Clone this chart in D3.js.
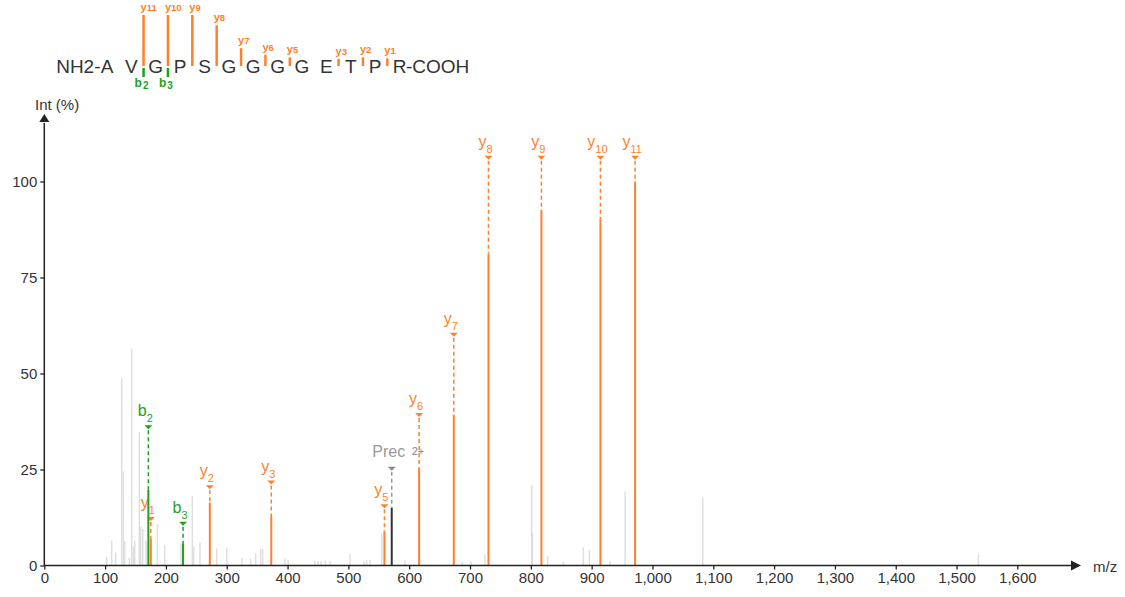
<!DOCTYPE html>
<html><head><meta charset="utf-8">
<script src="https://cdn.jsdelivr.net/npm/d3@7"></script>
<style>
body{margin:0;background:#fff;}
svg{display:block;font-family:"Liberation Sans",Arial,sans-serif;}
</style>
</head><body>
<svg id="chart" width="1125" height="597"></svg>
<script>
// ---------------- data ----------------
const residues = ["A","V","G","P","S","G","G","G","G","E","T","P","R"];

const yIonNumbers    = [1, 2, 3, 5, 6, 7, 8, 9, 10, 11];
const yIonMz         = [175.12, 272.17, 373.22, 559.28, 616.30, 673.32, 730.35, 817.38, 914.43, 971.45];
const yIonIntensity  = [6.9, 16.4, 12.9, 8.9, 25.5, 39.2, 80.9, 92.6, 90.2, 100];
const yIonLabelLevel = [12.1, 20.4, 21.6, 15.4, 39.2, 60.1, 106.2, 106.2, 106.2, 106.2];
const yIonSeqMark    = [0.15, 0.17, 0.14, 0.17, 0.22, 0.35, 0.80, 1.0, 1.0, 1.0];

const bIonNumbers    = [2, 3];
const bIonMz         = [171.11, 228.13];
const bIonIntensity  = [19.7, 5.8];
const bIonLabelLevel = [36.0, 10.9];

const precursorMz = [571.28];
const precursorIntensity = [15.1];
const precursorLabelLevel = [25.2];
const precursorCharge = ["2+"];

const otherMz = [102.6,110.8,117.4,127.3,130.0,132.2,139.8,143.7,146.4,148.7,156.3,158.5,161.8,167.3,
  186.0,198.0,224.8,243.4,245.7,256.0,283.5,300.0,325.0,339.4,347.6,355.8,359.0,395.8,401.0,
  445,450,455,462,470,502.7,525.7,530,535.7,554.8,593,687.4,701.7,724.7,801.5,802.5,827.8,
  853.5,886.4,896.3,930.3,955.0,1082.7,1536];
const otherIntensity = [2.3,6.5,3.4,48.8,24.5,6.3,2.0,56.4,5.0,6.5,34.7,10.2,9.5,6.5,
  10.8,5.4,5.7,18.1,5.0,6.0,4.4,4.7,2.0,1.8,3.2,4.3,4.3,1.8,1.5,
  1.2,1.2,1.2,1.3,1.2,3.0,1.2,1.5,1.5,8.4,1.5,1.0,1.0,2.8,21.0,8.5,2.5,
  1.0,4.7,4.1,1.2,19.3,17.5,2.8];

const xTicks = [0,100,200,300,400,500,600,700,800,900,1000,1100,1200,1300,1400,1500,1600];
const yTicks = [0,25,50,75,100];

// ---------------- drawing ----------------
const ORANGE = "#ff7f2a", GREEN = "#1fa01f", GRAY = "#d9d9d9", AXIS = "#222", TEXT = "#333";
const svg = d3.select("#chart");

const x = d3.scaleLinear().domain([0, 1703]).range([44.3, 1080]);
const y = d3.scaleLinear().domain([0, 100]).range([565.5, 181.5]);

// noise peaks
svg.append("g").selectAll("line").data(otherMz.map((m,i)=>({m, v: otherIntensity[i]})))
  .join("line")
  .attr("x1", d=>x(d.m)).attr("x2", d=>x(d.m))
  .attr("y1", y(0)).attr("y2", d=>y(d.v))
  .attr("stroke", GRAY).attr("stroke-width", 1.5).attr("stroke-opacity", 0.85);

// annotated peaks
const ions = [];
yIonNumbers.forEach((n,i)=>ions.push({base:"y", sub:String(n), mz:yIonMz[i], v:yIonIntensity[i], lvl:yIonLabelLevel[i], color:ORANGE}));
bIonNumbers.forEach((n,i)=>ions.push({base:"b", sub:String(n), mz:bIonMz[i], v:bIonIntensity[i], lvl:bIonLabelLevel[i], color:GREEN}));

const precs = precursorMz.map((m,i)=>({mz:m, v:precursorIntensity[i], lvl:precursorLabelLevel[i], charge:precursorCharge[i]}));

const gp = svg.append("g");
// precursor
precs.forEach(p=>{
  const px = x(p.mz);
  gp.append("line").attr("x1",px).attr("x2",px).attr("y1",y(0)).attr("y2",y(p.v))
    .attr("stroke","#333").attr("stroke-width",2);
  gp.append("line").attr("x1",px).attr("x2",px).attr("y1",y(p.lvl)+3).attr("y2",y(p.v))
    .attr("stroke","#999").attr("stroke-width",1.5).attr("stroke-dasharray","4,3");
  gp.append("path").attr("d",`M${px-4},${y(p.lvl)-2}L${px+4},${y(p.lvl)-2}L${px},${y(p.lvl)+2}Z`).attr("fill","#888");
  gp.append("text").attr("x",px-3).attr("y",y(p.lvl)-12).attr("text-anchor","middle")
    .attr("fill","#999").attr("font-size",16).text("Prec");
  gp.append("text").attr("x",px+20).attr("y",y(p.lvl)-14).attr("fill","#888").attr("font-size",11).text(p.charge);
});

ions.forEach(d=>{
  const px = x(d.mz);
  gp.append("line").attr("x1",px).attr("x2",px).attr("y1",y(0)).attr("y2",y(d.v))
    .attr("stroke",d.color).attr("stroke-width",2);
  gp.append("line").attr("x1",px).attr("x2",px).attr("y1",y(d.lvl)+3).attr("y2",y(d.v))
    .attr("stroke",d.color).attr("stroke-width",1.5).attr("stroke-dasharray","4,3");
  gp.append("path").attr("d",`M${px-4},${y(d.lvl)-2}L${px+4},${y(d.lvl)-2}L${px},${y(d.lvl)+2}Z`).attr("fill",d.color);
  const t = gp.append("text").attr("x",px-3).attr("y",y(d.lvl)-11).attr("text-anchor","middle")
    .attr("fill",d.color).attr("font-size",16);
  t.append("tspan").text(d.base);
  t.append("tspan").attr("dy",6).attr("font-size",11).text(d.sub);
});

// axes
const xAxis = d3.axisBottom(x).tickValues(xTicks).tickSize(4).tickPadding(3).tickFormat(d3.format(","));
const gx = svg.append("g").attr("transform",`translate(0,${y(0)})`).call(xAxis);
gx.select(".domain").remove();
gx.selectAll(".tick line").attr("stroke",AXIS).attr("stroke-width",1.3);
gx.selectAll(".tick text").attr("fill",TEXT).attr("font-size",15).attr("font-family","Liberation Sans, Arial, sans-serif");

const yAxis = d3.axisLeft(y).tickValues(yTicks).tickSize(4).tickPadding(3);
const gy = svg.append("g").attr("transform",`translate(${x(0)},0)`).call(yAxis);
gy.select(".domain").remove();
gy.selectAll(".tick line").attr("stroke",AXIS).attr("stroke-width",1.3);
gy.selectAll(".tick text").attr("fill",TEXT).attr("font-size",15).attr("font-family","Liberation Sans, Arial, sans-serif");

// axis lines with arrows
svg.append("line").attr("x1",x(0)).attr("x2",1072).attr("y1",y(0)).attr("y2",y(0)).attr("stroke",AXIS).attr("stroke-width",1.5);
svg.append("path").attr("d",`M1081,${y(0)}L1071,${y(0)-5}L1071,${y(0)+5}Z`).attr("fill",AXIS);
svg.append("line").attr("x1",x(0)).attr("x2",x(0)).attr("y1",y(0)).attr("y2",123).attr("stroke",AXIS).attr("stroke-width",1.5);
svg.append("path").attr("d",`M${x(0)},114L${x(0)-5},122L${x(0)+5},122Z`).attr("fill",AXIS);
svg.append("text").attr("x",1093).attr("y",y(0)+6).attr("fill",TEXT).attr("font-size",15).text("m/z");
svg.append("text").attr("x",35).attr("y",110).attr("fill",TEXT).attr("font-size",15).text("Int (%)");

// ---------------- sequence diagram ----------------
const seqX = d3.scaleLinear().domain([0, residues.length-1]).range([107, 399.5]);
const seqBase = 73, markBase = 66;
const gs = svg.append("g");
gs.append("text").attr("x",seqX(0)-6.5).attr("y",seqBase).attr("text-anchor","end").attr("fill",TEXT).attr("font-size",19).text("NH2-");
gs.selectAll("text.res").data(residues).join("text").attr("class","res")
  .attr("x",(d,i)=>seqX(i)).attr("y",seqBase).attr("text-anchor","middle").attr("fill",TEXT).attr("font-size",19).text(d=>d);
gs.append("text").attr("x",seqX(residues.length-1)+6.5).attr("y",seqBase).attr("fill",TEXT).attr("font-size",19).text("-COOH");

const markLen = d3.scaleLinear().domain([0,1]).range([0,51]);
yIonNumbers.forEach((n,i)=>{
  const cx = seqX(residues.length - 0.5 - n);
  const top = markBase - Math.max(7, markLen(yIonSeqMark[i]));
  gs.append("line").attr("x1",cx).attr("x2",cx).attr("y1",markBase).attr("y2",top)
    .attr("stroke",ORANGE).attr("stroke-width",2.5);
  const t = gs.append("text").attr("x",cx-3).attr("y",top-4).attr("fill",ORANGE).attr("font-size",11).attr("font-weight","bold");
  t.append("tspan").text("y");
  t.append("tspan").attr("font-size",9.5).text(n);
});
bIonNumbers.forEach((n,i)=>{
  const cx = seqX(n - 0.5);
  gs.append("line").attr("x1",cx).attr("x2",cx).attr("y1",68).attr("y2",77)
    .attr("stroke",GREEN).attr("stroke-width",2.5);
  const t = gs.append("text").attr("x",cx-2).attr("y",87).attr("text-anchor","middle").attr("fill",GREEN).attr("font-size",12).attr("font-weight","bold");
  t.append("tspan").text("b");
  t.append("tspan").attr("font-size",10).attr("dy",1.5).attr("dx",1).text(n);
});
</script>
</body></html>
